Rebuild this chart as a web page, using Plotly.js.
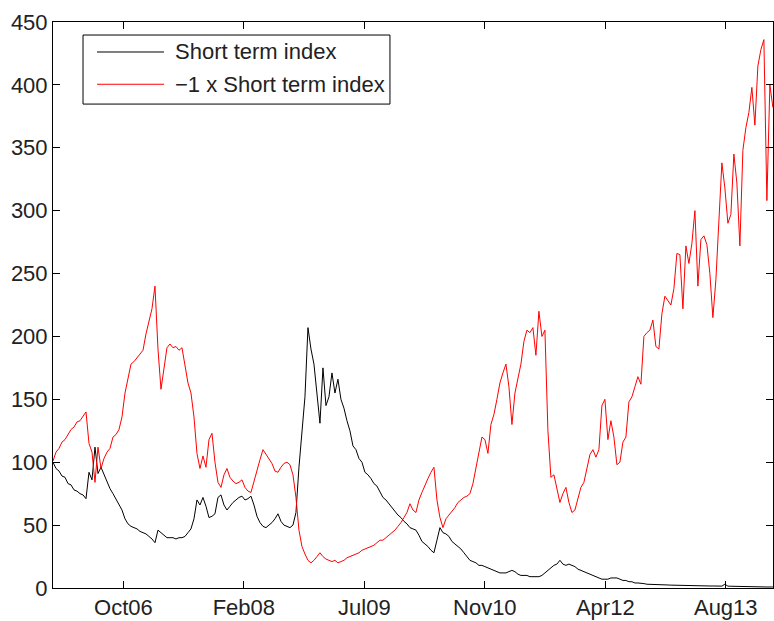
<!DOCTYPE html>
<html>
<head>
<meta charset="utf-8">
<script src="https://cdn.plot.ly/plotly-3.0.1.min.js"></script>
<style>html,body{margin:0;padding:0;background:#fff;}#chart{width:774px;height:621px;}</style>
</head>
<body>
<div id="chart"></div>
<script>
// Sampling grid: first observation date and spacing (days) of the values below
const startDate = [2005, 11, 25];
const stepDays = 12.448;

// Tick positions and labels
const tickDates = ['2006-10-13', '2008-02-25', '2009-07-09', '2010-11-21', '2012-04-04', '2013-08-17'];
const tickLabels = ['Oct06', 'Feb08', 'Jul09', 'Nov10', 'Apr12', 'Aug13'];
const yTicks = [0, 50, 100, 150, 200, 250, 300, 350, 400, 450];

// Series names
const seriesNames = ['Short term index', '\u22121 x Short term index'];

// Short term index (black)
const shortIndex = [
100,95,93,89,88,83,82,78,77,75,
74,71,92,86,112,91,96,90,85,79,
75,71,67,62,55,51,49,48,47,45,
44,43,41,39,36,46,44,42,40,40,
40,39,40,40,41,44,47,55,70,66,
72,65,56,57,59,72,74,66,62,65,
68,70,72,73,70,71,73,66,57,52,
49,48,50,52,55,59,53,50,49,48,
50,60,96,125,152,207,190,178,155,131,
175,145,152,171,155,166,150,143,133,125,
113,110,103,100,92,90,87,83,81,77,
72,70,67,64,61,58,56,53,51,48,
47,46,42,37,35,33,30,28,38,48,
44,43,41,37,35,33,31,28,25,22,
21,20,18,18,17,16,15,14,13,12,
12,12,13,14,13,11,10,10,10,9,
9,9,9,10,12,14,16,18,19,22,
19,18,19,18,17,15,14,13,12,11,
10,9,8,7,7,7,8,8,8,7,
6,6,5,5,4,4,4,3.5,3,3,
3,3,2.8,2.6,2.5,2.4,2.3,2.2,2.1,2,
2,2,1.9,1.9,1.8,1.8,1.7,1.7,1.6,1.6,
1.6,1.5,1.5,1.5,3,1.5,1.4,1.3,1.5,1.2,
1.1,1,1,1,0.9,0.9,0.9,0.8,0.8,0.8,0.8
];

// -1 x Short term index (red)
const inverseIndex = [
101,108,111,116,118,122,126,128,132,133,
137,140,115,108,84,112,95,103,108,111,
120,122,126,136,155,166,178,180,183,186,
189,202,213,222,240,190,158,175,191,194,
191,192,189,191,176,163,155,136,107,95,
105,96,118,123,100,84,80,90,95,88,
85,83,84,86,80,77,76,85,95,102,
110,106,103,99,93,92,96,99,100,98,
90,72,46,33,27,22,20,22,25,28,
25,23,22,21,22,20,21,22,24,25,
26,27,28,30,31,32,33,34,36,38,
38,40,42,44,46,49,52,56,60,67,
62,60,70,76,82,87,92,96,70,56,
48,55,58,61,64,68,70,72,73,75,
83,95,106,120,118,107,130,138,150,163,
171,178,160,130,155,168,178,196,205,203,
207,185,220,200,205,125,88,90,80,68,
75,80,68,60,62,72,80,84,96,106,
110,104,110,145,150,118,133,120,98,100,
116,120,148,152,160,168,162,200,203,205,
213,192,190,218,232,228,225,238,266,265,
222,272,258,274,300,240,277,280,273,250,
215,245,295,338,318,290,297,345,322,272,
348,366,378,398,368,415,428,436,308,400,382
];

const t0 = Date.UTC(startDate[0], startDate[1], startDate[2]);
const dates = shortIndex.map((_, i) => new Date(t0 + i * stepDays * 86400000).toISOString().slice(0, 16).replace('T', ' '));

const traces = [
  {x: dates, y: shortIndex, name: seriesNames[0], type: 'scatter', mode: 'lines', line: {color: '#000000', width: 1}},
  {x: dates, y: inverseIndex, name: seriesNames[1], type: 'scatter', mode: 'lines', line: {color: '#ff0000', width: 1}}
];

const font = {family: 'Liberation Sans, Arial, Helvetica, sans-serif', size: 22, color: '#222222'};

const layout = {
  width: 774, height: 621,
  margin: {l: 53, r: 1, t: 22, b: 33, pad: 0},
  paper_bgcolor: '#ffffff', plot_bgcolor: '#ffffff',
  showlegend: false,
  font: font,
  xaxis: {
    type: 'date', range: ['2005-12-25', '2014-03-01'],
    tickmode: 'array', tickvals: tickDates, ticktext: tickLabels,
    ticks: 'inside', ticklen: 7, tickcolor: '#000', tickwidth: 1,
    showline: true, linecolor: '#000', linewidth: 1, mirror: 'ticks',
    showgrid: false, zeroline: false, tickfont: font
  },
  yaxis: {
    range: [0, 450], tickmode: 'array', tickvals: yTicks, ticktext: yTicks.map(String),
    ticks: 'inside', ticklen: 7, tickcolor: '#000', tickwidth: 1,
    showline: true, linecolor: '#000', linewidth: 1, mirror: 'ticks',
    showgrid: false, zeroline: false, tickfont: font
  },
  shapes: [
    {type: 'rect', xref: 'paper', yref: 'paper', x0: 0.0417, x1: 0.468, y0: 0.855, y1: 0.977,
     line: {color: '#000', width: 1}, fillcolor: '#ffffff', layer: 'above'},
    {type: 'line', xref: 'paper', yref: 'paper', x0: 0.0611, x1: 0.1542, y0: 0.947, y1: 0.947,
     line: {color: '#000000', width: 1}, layer: 'above'},
    {type: 'line', xref: 'paper', yref: 'paper', x0: 0.0611, x1: 0.1542, y0: 0.890, y1: 0.890,
     line: {color: '#ff0000', width: 1}, layer: 'above'}
  ],
  annotations: [
    {xref: 'paper', yref: 'paper', x: 0.1667, y: 0.947, xanchor: 'left', yanchor: 'middle',
     text: seriesNames[0], showarrow: false, font: font},
    {xref: 'paper', yref: 'paper', x: 0.1667, y: 0.890, xanchor: 'left', yanchor: 'middle',
     text: seriesNames[1], showarrow: false, font: font}
  ]
};

Plotly.newPlot('chart', traces, layout, {displayModeBar: false, staticPlot: true});
</script>
</body>
</html>
